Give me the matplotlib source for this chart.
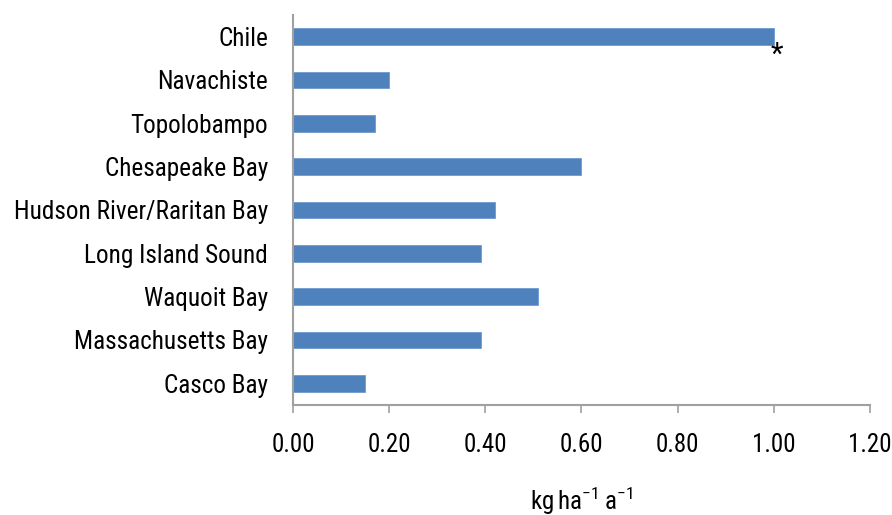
import numpy as np
import matplotlib.pyplot as plt

plt.rcParams['font.family'] = ['Roboto Condensed', 'Liberation Sans', 'DejaVu Sans']
plt.rcParams['mathtext.fontset'] = 'custom'
plt.rcParams['mathtext.rm'] = 'Roboto Condensed'

# Données (de bas en haut)
sites = ["Casco Bay", "Massachusetts Bay", "Waquoit Bay", "Long Island Sound",
         "Hudson River/Raritan Bay", "Chesapeake Bay", "Topolobampo",
         "Navachiste", "Chile"]
valeurs = [0.15, 0.39, 0.51, 0.39, 0.42, 0.60, 0.17, 0.20, 1.00]
ticks_x = [0.0, 0.2, 0.4, 0.6, 0.8, 1.0, 1.2]

fig = plt.figure(figsize=(8.92, 5.15), dpi=100)
ax = fig.add_axes([0.3285, 0.2136, 0.6468, 0.7573])

pos = np.arange(len(sites))
ax.barh(pos, valeurs, height=0.39, color='#4f81bd', edgecolor='#6f9bd0', linewidth=0.6)

ax.set_xlim(0, 1.2)
ax.set_ylim(-0.5, len(sites) - 0.5)
ax.set_xticks(ticks_x)
ax.set_xticklabels([f"{t:.2f}" for t in ticks_x])
ax.set_yticks(pos)
ax.set_yticklabels(sites)

for s in ['top', 'right']:
    ax.spines[s].set_visible(False)
for s in ['left', 'bottom']:
    ax.spines[s].set_color('#a0a0a0')
    ax.spines[s].set_linewidth(1.5)

ax.tick_params(axis='x', direction='out', length=6, width=1.2, color='#a0a0a0',
               labelsize=18, pad=14)
ax.tick_params(axis='y', length=0, labelsize=18.2, pad=18)

ax.set_xlabel(r"$\mathregular{kg\,ha^{-1}\,a^{-1}}$", fontsize=18, labelpad=20)

# astérisque à la fin de la barre du Chili
ax.annotate("*", xy=(valeurs[-1], pos[-1]), xytext=(2, -13),
            textcoords='offset points', fontsize=21,
            ha='center', va='center')

fig.savefig("out.png", dpi=100)
